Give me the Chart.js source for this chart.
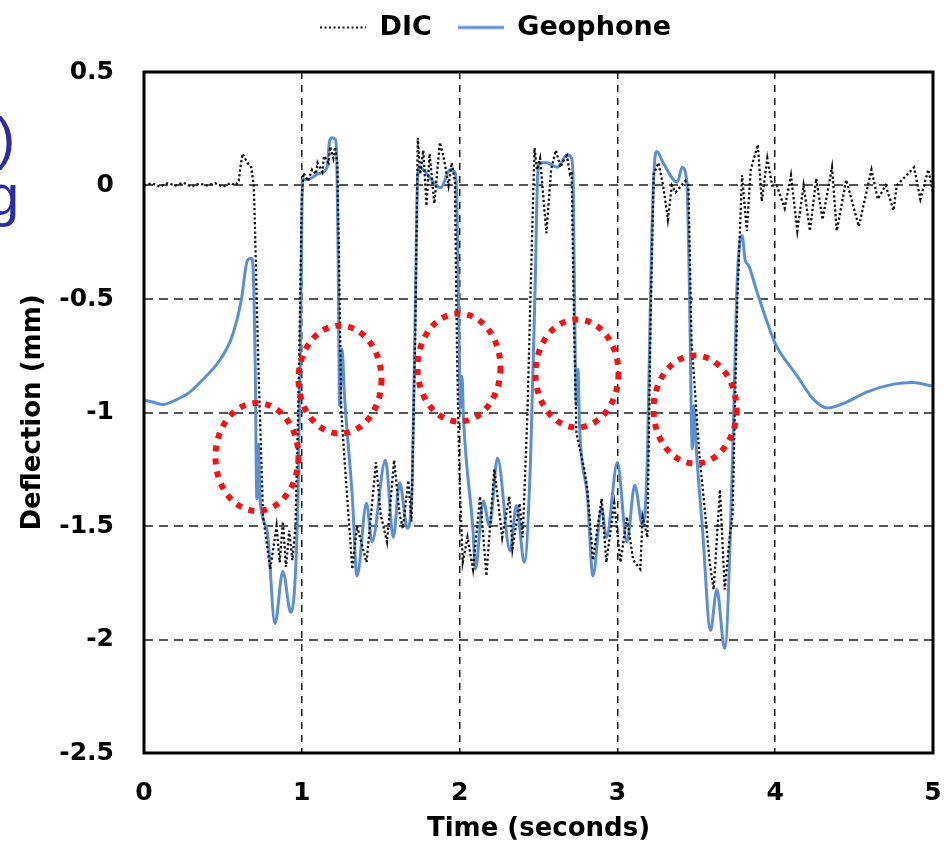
<!DOCTYPE html>
<html>
<head>
<meta charset="utf-8">
<script src="https://cdn.jsdelivr.net/npm/chart.js@4.4.0/dist/chart.umd.min.js"></script>
<style>
  body { margin: 0; background: #fff; overflow: hidden; }
  #wrap { position: relative; width: 951px; height: 857px; }
  .cut { position: absolute; font-family: 'Liberation Sans', Arial, sans-serif; font-size: 58px; line-height: 1; color: #2c2ca6; white-space: nowrap; }
</style>
</head>
<body>
<div id="wrap">
  <canvas id="chart" width="951" height="857"></canvas>
  <span class="cut" style="left:-4px; top:109px;">)</span>
  <span class="cut" style="left:-13px; top:166px;">g</span>
</div>
<script>
// Geophone trace (time in s, deflection in mm), grouped by loading phase
const geoT = [
  0, 0.06, 0.12, 0.2, 0.29, 0.38, 0.48, 0.55, 0.59, 0.62, 0.645, 0.655, 0.68, 0.69,
  0.705, 0.715, 0.725, 0.735, 0.78, 0.83, 0.88, 0.93, 0.976, 0.995,
  1.005, 1.03, 1.115, 1.16, 1.175, 1.19, 1.21, 1.22, 1.23,
  1.24, 1.255, 1.27, 1.32, 1.35, 1.41, 1.445, 1.53, 1.58, 1.62, 1.67, 1.70, 1.72,
  1.735, 1.745, 1.77, 1.81, 1.88, 1.94, 1.97, 1.98, 1.995,
  2.005, 2.015, 2.025, 2.085, 2.10, 2.15, 2.19, 2.24, 2.32, 2.36, 2.41, 2.45, 2.48,
  2.495, 2.51, 2.55, 2.62, 2.68, 2.71, 2.72, 2.73,
  2.74, 2.75, 2.76, 2.81, 2.845, 2.90, 2.93, 3.00, 3.06, 3.11, 3.16, 3.19, 3.215,
  3.235, 3.25, 3.29, 3.38, 3.41, 3.44, 3.455,
  3.475, 3.485, 3.50, 3.54, 3.59, 3.63, 3.68, 3.73, 3.755,
  3.775, 3.79, 3.81, 3.83, 3.885, 3.99, 4.01, 4.14, 4.24, 4.33, 4.45, 4.58, 4.75, 4.87, 5.0
];
const geoD = [
  -0.945, -0.955, -0.965, -0.945, -0.91, -0.85, -0.77, -0.68, -0.59, -0.49, -0.36, -0.33, -0.32, -0.35,
  -0.8, -1.38, -1.14, -1.38, -1.52, -1.93, -1.70, -1.88, -1.37, -0.5,
  0.03, 0.025, 0.055, 0.08, 0.19, 0.21, 0.205, 0.15, -0.3,
  -0.97, -0.72, -0.92, -1.37, -1.72, -1.40, -1.57, -1.21, -1.55, -1.31, -1.51, -1.3, -0.5,
  0.05, 0.08, 0.07, 0.035, -0.01, 0.07, 0.06, 0.0, -0.6,
  -0.98, -0.84, -1.03, -1.52, -1.69, -1.39, -1.50, -1.20, -1.61, -1.41, -1.66, -1.2, -0.4,
  0.05, 0.10, 0.10, 0.08, 0.135, 0.12, 0.0, -0.6,
  -0.97, -0.81, -1.06, -1.37, -1.72, -1.42, -1.55, -1.22, -1.57, -1.32, -1.50, -1.2, -0.3,
  0.1, 0.15, 0.10, 0.015, 0.08, 0.015, -0.4,
  -1.16, -0.97, -1.16, -1.52, -1.96, -1.78, -2.04, -1.2, -0.5,
  -0.25, -0.22, -0.33, -0.35, -0.47, -0.68, -0.71, -0.84, -0.94, -0.98, -0.955, -0.91, -0.875, -0.868, -0.885
];

// DIC trace
const dicT = [
  0, 0.05, 0.1, 0.15, 0.2, 0.25, 0.3, 0.35, 0.4, 0.45, 0.5, 0.55, 0.58, 0.6, 0.615, 0.625, 0.655, 0.68, 0.695,
  0.70, 0.725, 0.755, 0.8, 0.84, 0.86, 0.88, 0.9, 0.92, 0.94, 0.96, 0.98,
  1.0, 1.01, 1.04, 1.065, 1.09, 1.1, 1.13, 1.14, 1.17, 1.18, 1.2, 1.21, 1.225,
  1.235, 1.25, 1.27, 1.32, 1.35, 1.41, 1.47, 1.5, 1.54, 1.585, 1.62, 1.64, 1.675, 1.695, 1.72,
  1.735, 1.75, 1.77, 1.79, 1.81, 1.84, 1.875, 1.9, 1.93, 1.95, 1.97,
  1.985, 2.0, 2.02, 2.05, 2.085, 2.13, 2.17, 2.22, 2.27, 2.315, 2.335, 2.38, 2.40, 2.43, 2.46,
  2.475, 2.49, 2.51, 2.55, 2.58, 2.61, 2.64, 2.65, 2.68, 2.70, 2.71,
  2.725, 2.74, 2.79, 2.81, 2.845, 2.90, 2.93, 2.98, 3.02, 3.06, 3.10, 3.145, 3.16, 3.19, 3.21,
  3.23, 3.26, 3.29, 3.32, 3.345, 3.37, 3.405, 3.43, 3.45,
  3.47, 3.52, 3.55, 3.585, 3.61, 3.65, 3.68, 3.71, 3.73, 3.76,
  3.79, 3.82, 3.845, 3.89, 3.915, 3.95, 3.98, 4.01, 4.06, 4.1, 4.14, 4.18, 4.22, 4.26, 4.3, 4.36, 4.39, 4.45, 4.53, 4.61, 4.65, 4.7, 4.75, 4.77, 4.88, 4.92, 4.97, 5.0
];
const dicD = [
  0.0, 0.01, -0.005, 0.01, 0.0, 0.012, -0.005, 0.008, 0.0, 0.01, -0.005, 0.01, 0.0, 0.02, 0.1, 0.14, 0.1, 0.08, 0.0,
  -0.1, -0.8, -1.46, -1.69, -1.5, -1.66, -1.48, -1.68, -1.52, -1.65, -1.5, -0.9,
  -0.06, 0.055, 0.02, 0.07, 0.05, 0.1, 0.06, 0.13, 0.1, 0.17, 0.12, 0.17, 0.1,
  -0.3, -0.99, -1.2, -1.69, -1.5, -1.66, -1.22, -1.45, -1.57, -1.21, -1.45, -1.51, -1.3, -1.48, -0.6,
  0.21, 0.05, 0.155, -0.09, 0.14, -0.08, 0.19, 0.12, 0.0, 0.1, 0.02,
  -0.8, -1.3, -1.66, -1.55, -1.69, -1.37, -1.72, -1.25, -1.55, -1.37, -1.60, -1.40, -1.55, -1.0, -0.2,
  0.165, 0.07, 0.12, -0.21, 0.07, 0.155, 0.08, 0.1, 0.13, 0.05, 0.06,
  -0.6, -1.09, -1.25, -1.34, -1.65, -1.38, -1.66, -1.40, -1.66, -1.46, -1.65, -1.69, -1.46, -1.55, -0.6,
  0.05, 0.1, 0.0, -0.15, 0.0, -0.03, 0.0, 0.02, 0.0,
  -0.69, -1.19, -1.40, -1.66, -1.78, -1.34, -1.78, -1.56, -1.45, -0.5,
  0.045, -0.2, 0.07, 0.18, -0.07, 0.12, 0.0, 0.0, -0.1, 0.045, -0.2, 0.0, -0.2, 0.03, -0.15, 0.08, -0.2, 0.025, -0.18, 0.07, -0.06, 0.0, -0.11, 0.0, 0.08, -0.06, 0.07, -0.03
];

// red dotted circles marking the geophone spikes (centre time, centre deflection)
const circleT = [0.716, 1.242, 1.996, 2.744, 3.492];
const circleD = [-1.196, -0.855, -0.802, -0.828, -0.987];

Chart.defaults.font.family = "'DejaVu Sans', sans-serif";
Chart.defaults.color = '#000';

// small line samples for the legend (the built-in 'line' point style ignores dashes)
function legendSwatch(color, width, dash) {
  const c = document.createElement('canvas');
  c.width = 46;
  c.height = 6;
  const g = c.getContext('2d');
  g.strokeStyle = color;
  g.lineWidth = width;
  g.setLineDash(dash);
  g.beginPath();
  g.moveTo(0, 3);
  g.lineTo(46, 3);
  g.stroke();
  return c;
}
const swatches = [legendSwatch('#111', 2, [2, 2.5]), legendSwatch('#5b8fd3', 3, [])];

// legend sits a bit higher and further right than Chart.js puts it
const legendTweak = {
  id: 'legendTweak',
  beforeInit(chart) {
    const fit = chart.legend.fit;
    chart.legend.fit = function () { fit.call(this); this.height = 72; };
  },
  afterLayout(chart) {
    const lg = chart.legend;
    lg.top -= 12; lg.bottom -= 12;
    lg.left += 29; lg.right += 29;
  }
};

// plot frame and the circles
const overlay = {
  id: 'overlay',
  afterDatasetsDraw(chart) {
    const {ctx, chartArea: a, scales: {x, y}} = chart;
    ctx.save();
    ctx.strokeStyle = '#000';
    ctx.lineWidth = 3;
    ctx.setLineDash([]);
    ctx.strokeRect(a.left, a.top, a.right - a.left, a.bottom - a.top);

    ctx.strokeStyle = '#f01414';
    ctx.lineWidth = 6;
    ctx.setLineDash([6, 7]);
    circleT.forEach((t, i) => {
      const cx = x.getPixelForValue(t);
      const cy = y.getPixelForValue(circleD[i]);
      const rx = x.getPixelForValue(t + 0.263) - cx;
      const ry = cy - y.getPixelForValue(circleD[i] + 0.238);
      ctx.beginPath();
      ctx.ellipse(cx, cy, rx, ry, 0, 0, Math.PI * 2);
      ctx.stroke();
    });
    ctx.restore();
  }
};

new Chart(document.getElementById('chart'), {
  type: 'line',
  data: {
    datasets: [
      {
        label: 'DIC',
        data: dicT.map((t, i) => ({x: t, y: dicD[i]})),
        borderColor: '#111',
        borderWidth: 2.3,
        borderDash: [2.3, 2.4],
        pointRadius: 0,
        tension: 0
      },
      {
        label: 'Geophone',
        data: geoT.map((t, i) => ({x: t, y: geoD[i]})),
        borderColor: '#5b8fd3',
        borderWidth: 3,
        pointRadius: 0,
        cubicInterpolationMode: 'monotone'
      }
    ]
  },
  options: {
    responsive: false,
    animation: false,
    layout: { padding: { left: 0, right: 18, top: 0, bottom: 0 } },
    plugins: {
      legend: {
        position: 'top',
        labels: {
          usePointStyle: true,
          pointStyleWidth: 46,
          padding: 26,
          color: '#000',
          font: { size: 27, weight: 'bold' },
          generateLabels: chart => Chart.defaults.plugins.legend.labels.generateLabels(chart)
            .map((item, i) => ({...item, pointStyle: swatches[i]}))
        }
      },
      tooltip: { enabled: false }
    },
    scales: {
      x: {
        type: 'linear',
        min: 0,
        max: 5,
        afterFit: s => {
          s.height = 104;
          // tick padding is only meant to push the labels down, not in from the sides
          s.paddingLeft = 0;
          s.paddingRight = 0;
        },
        ticks: { stepSize: 1, padding: 25, color: '#000', font: { size: 25, weight: 'bold' } },
        grid: { color: '#1a1a1a', lineWidth: 1.5, drawTicks: false },
        border: { display: false, dash: [7, 6] },
        title: {
          display: true,
          text: 'Time (seconds)',
          color: '#000',
          font: { size: 26, weight: 'bold' },
          padding: { top: 0, bottom: 12 }
        }
      },
      y: {
        min: -2.5,
        max: 0.5,
        afterFit: s => { s.width = 144; },
        ticks: {
          stepSize: 0.5,
          padding: 30,
          color: '#000',
          font: { size: 25, weight: 'bold' },
          callback: v => String(v)
        },
        grid: { color: '#555', lineWidth: 2, drawTicks: false },
        border: { display: false, dash: [9, 6] },
        title: {
          display: true,
          text: 'Deflection (mm)',
          color: '#000',
          font: { size: 26, weight: 'bold' },
          padding: { top: 18, bottom: 0 }
        }
      }
    }
  },
  plugins: [legendTweak, overlay]
});
</script>
</body>
</html>
